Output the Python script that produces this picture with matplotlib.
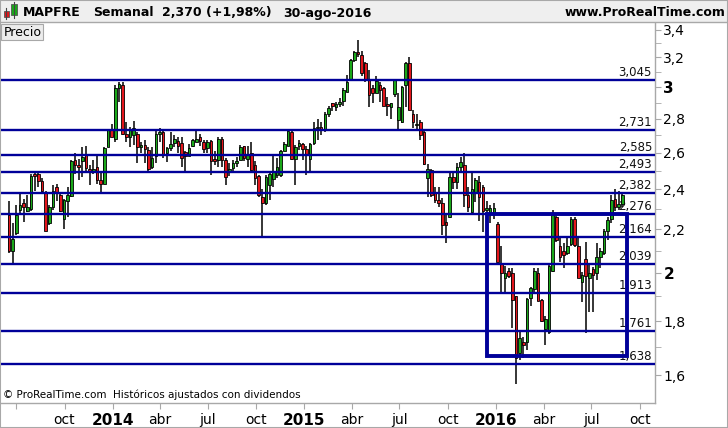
import numpy as np
import pandas as pd
import matplotlib
matplotlib.use('Agg')
import matplotlib.pyplot as plt
import matplotlib.dates as mdates
from matplotlib.patches import Rectangle
from matplotlib.lines import Line2D
from matplotlib.ticker import FixedLocator, FixedFormatter, NullFormatter

# Weekly MAPFRE candles, week starting 17-jun-2013
weeks = pd.date_range('2013-06-17', periods=168, freq='7D')

opens = [2.27, 2.10, 2.18, 2.295, 2.33, 2.29, 2.30, 2.48, 2.48, 2.445,
         2.38, 2.23, 2.31, 2.41, 2.37, 2.25, 2.34, 2.365, 2.56, 2.53,
         2.55, 2.585, 2.51, 2.50, 2.52, 2.45, 2.43, 2.63, 2.73, 2.68,
         2.99, 3.01, 2.71, 2.69, 2.70, 2.71, 2.63, 2.645, 2.615, 2.52,
         2.58, 2.71, 2.72, 2.60, 2.625, 2.655, 2.665, 2.655, 2.605, 2.58,
         2.64, 2.66, 2.69, 2.66, 2.625, 2.665, 2.565, 2.56, 2.68, 2.56,
         2.49, 2.515, 2.54, 2.56, 2.635, 2.565, 2.60, 2.53, 2.47, 2.36,
         2.33, 2.42, 2.455, 2.475, 2.475, 2.61, 2.64, 2.72, 2.565, 2.635,
         2.65, 2.62, 2.565, 2.655, 2.745, 2.75, 2.73, 2.83, 2.895, 2.87,
         2.89, 2.91, 2.97, 3.045, 3.18, 3.24, 3.22, 3.16, 3.045, 2.99,
         2.96, 3.01, 2.995, 2.89, 2.87, 2.955, 2.79, 2.78, 3.01, 3.16,
         2.83, 2.76, 2.78, 2.72, 2.46, 2.505, 2.38, 2.345, 2.33, 2.235,
         2.26, 2.465, 2.44, 2.52, 2.53, 2.37, 2.285, 2.38, 2.44, 2.41,
         2.295, 2.28, 2.28, 2.225, 2.04, 1.98, 2.01, 2.00, 1.90, 1.68,
         1.72, 1.72, 1.895, 1.93, 2.00, 1.885, 1.77, 1.76, 2.01, 2.26,
         2.12, 2.10, 2.09, 2.13, 2.25, 2.12, 1.96, 2.06, 1.98, 2.015,
         2.00, 2.07, 2.09, 2.19, 2.25, 2.35, 2.31, 2.325]

highs = [2.34, 2.23, 2.32, 2.38, 2.35, 2.37, 2.48, 2.50, 2.49, 2.46,
         2.39, 2.32, 2.42, 2.43, 2.38, 2.35, 2.41, 2.56, 2.60, 2.565,
         2.63, 2.64, 2.53, 2.56, 2.58, 2.49, 2.63, 2.74, 2.77, 3.01,
         3.03, 3.03, 2.78, 2.75, 2.785, 2.72, 2.66, 2.67, 2.63, 2.63,
         2.74, 2.745, 2.73, 2.63, 2.72, 2.70, 2.69, 2.69, 2.61, 2.65,
         2.68, 2.725, 2.71, 2.67, 2.675, 2.675, 2.61, 2.69, 2.69, 2.57,
         2.54, 2.56, 2.575, 2.645, 2.64, 2.635, 2.66, 2.55, 2.475, 2.40,
         2.475, 2.49, 2.585, 2.57, 2.615, 2.66, 2.73, 2.74, 2.645, 2.675,
         2.655, 2.635, 2.655, 2.78, 2.80, 2.78, 2.84, 2.88, 2.90, 2.905,
         2.93, 2.99, 3.08, 3.19, 3.245, 3.32, 3.245, 3.17, 3.11, 3.01,
         3.07, 3.03, 3.00, 2.935, 2.90, 3.05, 2.96, 3.005, 3.17, 3.20,
         2.85, 2.83, 2.79, 2.73, 2.535, 2.51, 2.41, 2.41, 2.355, 2.28,
         2.49, 2.49, 2.54, 2.575, 2.60, 2.41, 2.49, 2.46, 2.47, 2.42,
         2.34, 2.32, 2.33, 2.235, 2.12, 2.03, 2.02, 2.02, 1.90, 1.76,
         1.74, 1.895, 1.94, 2.02, 2.02, 1.89, 1.82, 2.035, 2.295, 2.27,
         2.16, 2.135, 2.165, 2.26, 2.26, 2.16, 2.005, 2.14, 2.04, 2.025,
         2.135, 2.11, 2.20, 2.26, 2.37, 2.40, 2.39, 2.385]

lows = [2.09, 2.04, 2.17, 2.27, 2.235, 2.285, 2.29, 2.39, 2.41, 2.385,
        2.19, 2.22, 2.295, 2.34, 2.285, 2.20, 2.26, 2.36, 2.48, 2.45,
        2.465, 2.50, 2.42, 2.48, 2.43, 2.385, 2.43, 2.63, 2.69, 2.66,
        2.905, 2.70, 2.66, 2.63, 2.645, 2.54, 2.60, 2.54, 2.49, 2.51,
        2.54, 2.66, 2.57, 2.545, 2.61, 2.63, 2.60, 2.52, 2.50, 2.58,
        2.63, 2.66, 2.64, 2.60, 2.60, 2.475, 2.53, 2.52, 2.52, 2.42,
        2.47, 2.49, 2.52, 2.56, 2.55, 2.52, 2.50, 2.42, 2.36, 2.16,
        2.32, 2.345, 2.41, 2.46, 2.465, 2.61, 2.635, 2.56, 2.42, 2.615,
        2.56, 2.475, 2.495, 2.645, 2.67, 2.70, 2.72, 2.81, 2.845, 2.845,
        2.87, 2.875, 2.97, 3.045, 3.17, 3.20, 3.07, 3.03, 2.87, 2.90,
        2.96, 2.905, 2.875, 2.815, 2.80, 2.935, 2.74, 2.775, 2.87, 2.85,
        2.745, 2.73, 2.67, 2.53, 2.36, 2.36, 2.33, 2.31, 2.17, 2.135,
        2.255, 2.40, 2.40, 2.50, 2.31, 2.285, 2.275, 2.335, 2.24, 2.185,
        2.185, 2.23, 2.25, 2.05, 1.92, 1.915, 1.98, 1.775, 1.57, 1.655,
        1.66, 1.69, 1.86, 1.92, 1.88, 1.795, 1.71, 1.75, 2.005, 2.14,
        2.05, 2.02, 2.08, 2.12, 2.115, 1.98, 1.875, 1.755, 1.835, 1.835,
        1.97, 2.02, 2.08, 2.15, 2.23, 2.29, 2.295, 2.31]

closes = [2.10, 2.155, 2.27, 2.32, 2.31, 2.31, 2.47, 2.47, 2.445, 2.39,
          2.19, 2.31, 2.39, 2.38, 2.29, 2.345, 2.37, 2.55, 2.53, 2.52,
          2.575, 2.515, 2.50, 2.51, 2.45, 2.43, 2.625, 2.74, 2.69, 2.99,
          3.02, 2.71, 2.69, 2.73, 2.745, 2.63, 2.645, 2.62, 2.51, 2.57,
          2.71, 2.72, 2.585, 2.625, 2.65, 2.68, 2.64, 2.57, 2.58, 2.625,
          2.675, 2.68, 2.665, 2.62, 2.66, 2.55, 2.55, 2.68, 2.56, 2.465,
          2.51, 2.54, 2.55, 2.63, 2.57, 2.585, 2.505, 2.46, 2.37, 2.33,
          2.465, 2.48, 2.49, 2.52, 2.61, 2.65, 2.725, 2.565, 2.63, 2.655,
          2.62, 2.59, 2.65, 2.745, 2.75, 2.73, 2.83, 2.865, 2.875, 2.89,
          2.905, 2.98, 3.03, 3.18, 3.235, 3.225, 3.09, 3.05, 2.95, 2.96,
          3.04, 2.98, 2.88, 2.88, 2.90, 3.05, 2.87, 3.00, 3.16, 2.855,
          2.78, 2.77, 2.70, 2.535, 2.51, 2.37, 2.345, 2.33, 2.22, 2.22,
          2.465, 2.44, 2.52, 2.545, 2.37, 2.31, 2.40, 2.45, 2.36, 2.29,
          2.305, 2.305, 2.305, 2.05, 2.00, 2.00, 1.985, 1.885, 1.66, 1.735,
          1.71, 1.89, 1.935, 2.01, 1.88, 1.80, 1.81, 2.03, 2.27, 2.15,
          2.07, 2.08, 2.12, 2.25, 2.125, 1.98, 1.99, 1.985, 2.00, 1.99,
          2.07, 2.10, 2.19, 2.245, 2.345, 2.31, 2.325, 2.37]

# Support / resistance levels drawn on the chart
levels = [3.045, 2.731, 2.585, 2.493, 2.382, 2.276, 2.164, 2.039, 1.913, 1.761, 1.638]

# Box drawn around the 2016 range
box_start, box_end = '2015-12-15', '2016-09-06'
box_low, box_high = 1.668, 2.276

# Axis ticks
ytick_vals = [1.6, 1.8, 2.0, 2.2, 2.4, 2.6, 2.8, 3.0, 3.2, 3.4]
ytick_labels = ['1,6', '1,8', '2', '2,2', '2,4', '2,6', '2,8', '3', '3,2', '3,4']
yminor_vals = [1.7, 1.9, 2.1, 2.3, 2.5, 2.7, 2.9, 3.1, 3.3]
xtick_dates = ['2013-07-01', '2013-10-01', '2014-01-01', '2014-04-01', '2014-07-01',
               '2014-10-01', '2015-01-01', '2015-04-01', '2015-07-01', '2015-10-01',
               '2016-01-01', '2016-04-01', '2016-07-01', '2016-10-01']
xtick_labels = ['', 'oct', '2014', 'abr', 'jul', 'oct', '2015', 'abr', 'jul', 'oct',
                '2016', 'abr', 'jul', 'oct']

NAVY = '#000099'
GREY = '#a8a8a8'
W, H = 728, 428


def fx(px):
    return px / W


def fy(py):
    return 1 - py / H


fig = plt.figure(figsize=(W / 100, H / 100), dpi=100)
ax = fig.add_axes([fx(1), fy(403), fx(655) - fx(1), (403 - 23) / H])

o = np.array(opens)
h = np.array(highs)
l = np.array(lows)
c = np.array(closes)
xs = mdates.date2num(weeks)

# candles
body_col = np.where(c >= o, '#1aa81a', '#e3161c')
ax.vlines(xs, l, h, color='black', lw=1.1, zorder=3)
ax.bar(xs, np.maximum(np.abs(c - o), 0.006), bottom=np.minimum(o, c), width=5.0,
       color=body_col, edgecolor='black', linewidth=0.6, zorder=4)

# levels
for lv in levels:
    ax.axhline(lv, color=NAVY, lw=1.7, zorder=5)
    ax.annotate(f'{lv:.3f}'.replace('.', ','), xy=(1, lv), xycoords=ax.get_yaxis_transform(),
                xytext=(-3, 1), textcoords='offset pixels', ha='right', va='bottom',
                fontsize=8.5, color='#111111', zorder=2)

# box
x0, x1 = mdates.date2num(pd.Timestamp(box_start)), mdates.date2num(pd.Timestamp(box_end))
ax.add_patch(Rectangle((x0, box_low), x1 - x0, box_high - box_low, fill=False,
                       edgecolor=NAVY, lw=2.8, zorder=6))

ax.set_yscale('log')
ax.set_ylim(1.506, 3.449)
ax.set_xlim(mdates.date2num(pd.Timestamp('2013-06-02')), mdates.date2num(pd.Timestamp('2016-10-30')))

ax.yaxis.tick_right()
ax.yaxis.set_major_locator(FixedLocator(ytick_vals))
ax.yaxis.set_major_formatter(FixedFormatter(ytick_labels))
ax.yaxis.set_minor_locator(FixedLocator(yminor_vals))
ax.yaxis.set_minor_formatter(NullFormatter())
ax.tick_params(axis='y', which='major', length=4, color=GREY, labelsize=10, pad=2)
ax.tick_params(axis='y', which='minor', length=4, color=GREY)
for t in ax.get_yticklabels():
    if t.get_text() in ('2', '3'):
        t.set_fontweight('bold')
        t.set_fontsize(11)

ax.set_xticks(mdates.date2num(pd.to_datetime(xtick_dates)))
ax.set_xticklabels(xtick_labels)
ax.tick_params(axis='x', length=4, color=GREY, labelsize=10, pad=3)
for t in ax.get_xticklabels():
    if t.get_text().isdigit():
        t.set_fontweight('bold')
        t.set_fontsize(11)

for s in ('top', 'left'):
    ax.spines[s].set_visible(False)
for s in ('right', 'bottom'):
    ax.spines[s].set_color(GREY)
    ax.spines[s].set_linewidth(1)

# header bar
fig.add_artist(Rectangle((0, fy(22)), 1, 22 / H, transform=fig.transFigure,
                         facecolor='#efefef', edgecolor='none'))
fig.add_artist(Line2D([0, 1], [fy(22), fy(22)], transform=fig.transFigure, color=GREY, lw=1))
# little candle icon
fig.add_artist(Line2D([fx(6), fx(6)], [fy(8), fy(19)], transform=fig.transFigure, color='#444444', lw=0.8))
fig.add_artist(Rectangle((fx(3.5), fy(17)), fx(5), 6 / H, transform=fig.transFigure,
                         facecolor='#e3161c', edgecolor='#555555', lw=0.6))
fig.add_artist(Line2D([fx(14), fx(14)], [fy(2), fy(18)], transform=fig.transFigure, color='#444444', lw=0.8))
fig.add_artist(Rectangle((fx(11), fy(15)), fx(6), 11 / H, transform=fig.transFigure,
                         facecolor='#1aa81a', edgecolor='#555555', lw=0.6))

hdr = dict(fontsize=9, fontweight='bold', va='center', color='black')
fig.text(fx(23), fy(13), 'MAPFRE', **hdr)
fig.text(fx(93), fy(13), 'Semanal', **hdr)
fig.text(fx(162), fy(13), '2,370 (+1,98%)', **hdr)
fig.text(fx(283), fy(13), '30-ago-2016', **hdr)
fig.text(fx(725), fy(13), 'www.ProRealTime.com', ha='right', **hdr)

# "Precio" tag
fig.add_artist(Rectangle((fx(1), fy(40)), fx(42), 16 / H, transform=fig.transFigure,
                         facecolor='#ececec', edgecolor=GREY, lw=0.8))
fig.text(fx(4), fy(32), 'Precio', fontsize=9, va='center')

# footer
fig.text(fx(3), fy(395), '© ProRealTime.com  Históricos ajustados con dividendos', fontsize=7.5, va='center')

# outer frame
fig.add_artist(Rectangle((0, 0), 1, 1, transform=fig.transFigure, fill=False,
                         edgecolor=GREY, lw=1.5))

fig.savefig('out.png', dpi=100)
